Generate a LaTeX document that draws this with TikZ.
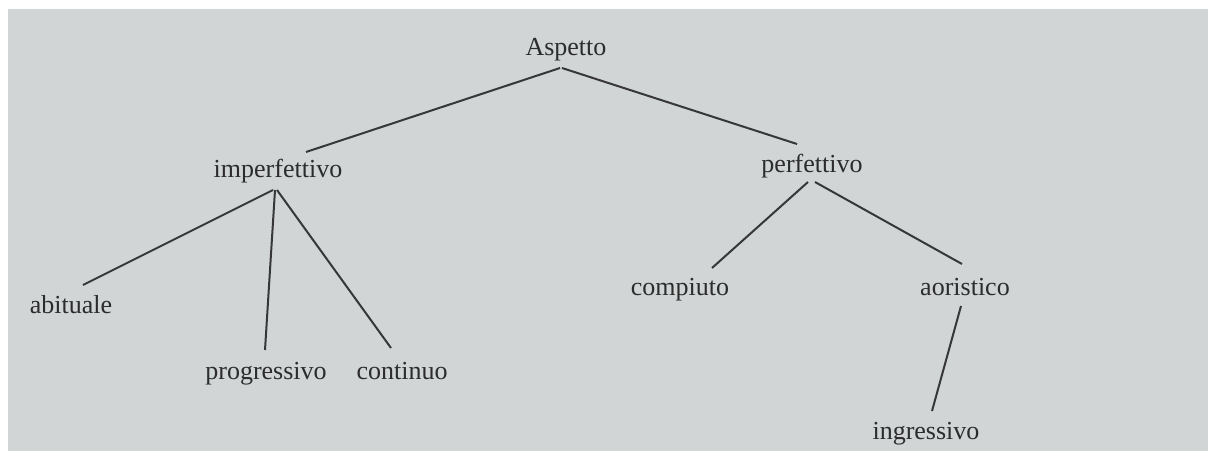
\documentclass[tikz,border=0pt]{standalone}
\usepackage{fontspec}
\setmainfont{Liberation Serif}
\definecolor{paper}{RGB}{209,213,213}
\definecolor{ink}{RGB}{44,44,44}
\definecolor{linecol}{RGB}{55,55,55}
\begin{document}
\begin{tikzpicture}[x=1pt,y=-1pt,
  lbl/.style={inner sep=0pt,text=ink,text height=18pt,text depth=5pt,font=\fontsize{26}{30}\selectfont},
  edge/.style={draw=linecol,line width=2pt}]
\useasboundingbox (0,0) rectangle (1208,453);
\fill[white] (0,0) rectangle (1208,453);
\fill[paper] (8,9) rectangle (1208,451);
\node[lbl] (asp) at (566,48.5) {Aspetto};
\node[lbl] (imp) at (278,170.5) {imperfettivo};
\node[lbl] (perf) at (812,166) {perfettivo};
\node[lbl] (abit) at (71,306.5) {abituale};
\node[lbl] (prog) at (266,372.5) {progressivo};
\node[lbl] (cont) at (402,372.5) {continuo};
\node[lbl] (comp) at (680,288.5) {compiuto};
\node[lbl] (aor) at (965,288.5) {aoristico};
\node[lbl] (ingr) at (926,432.5) {ingressivo};
\draw[edge] ([shift={(-6,19.5)}]asp.center) -- ([shift={(28,-18.5)}]imp.center);
\draw[edge] ([shift={(-4,19.5)}]asp.center) -- ([shift={(-15,-22)}]perf.center);
\draw[edge] ([shift={(-5,19.5)}]imp.center) -- ([shift={(12,-21.5)}]abit.center);
\draw[edge] ([shift={(-3,19.5)}]imp.center) -- ([shift={(-1,-22.5)}]prog.center);
\draw[edge] ([shift={(-1,19.5)}]imp.center) -- ([shift={(-11,-24.5)}]cont.center);
\draw[edge] ([shift={(-4,16)}]perf.center) -- ([shift={(32,-20.5)}]comp.center);
\draw[edge] ([shift={(3,16)}]perf.center) -- ([shift={(-3,-24.5)}]aor.center);
\draw[edge] ([shift={(-4,17.5)}]aor.center) -- ([shift={(6,-21.5)}]ingr.center);
\end{tikzpicture}
\end{document}
